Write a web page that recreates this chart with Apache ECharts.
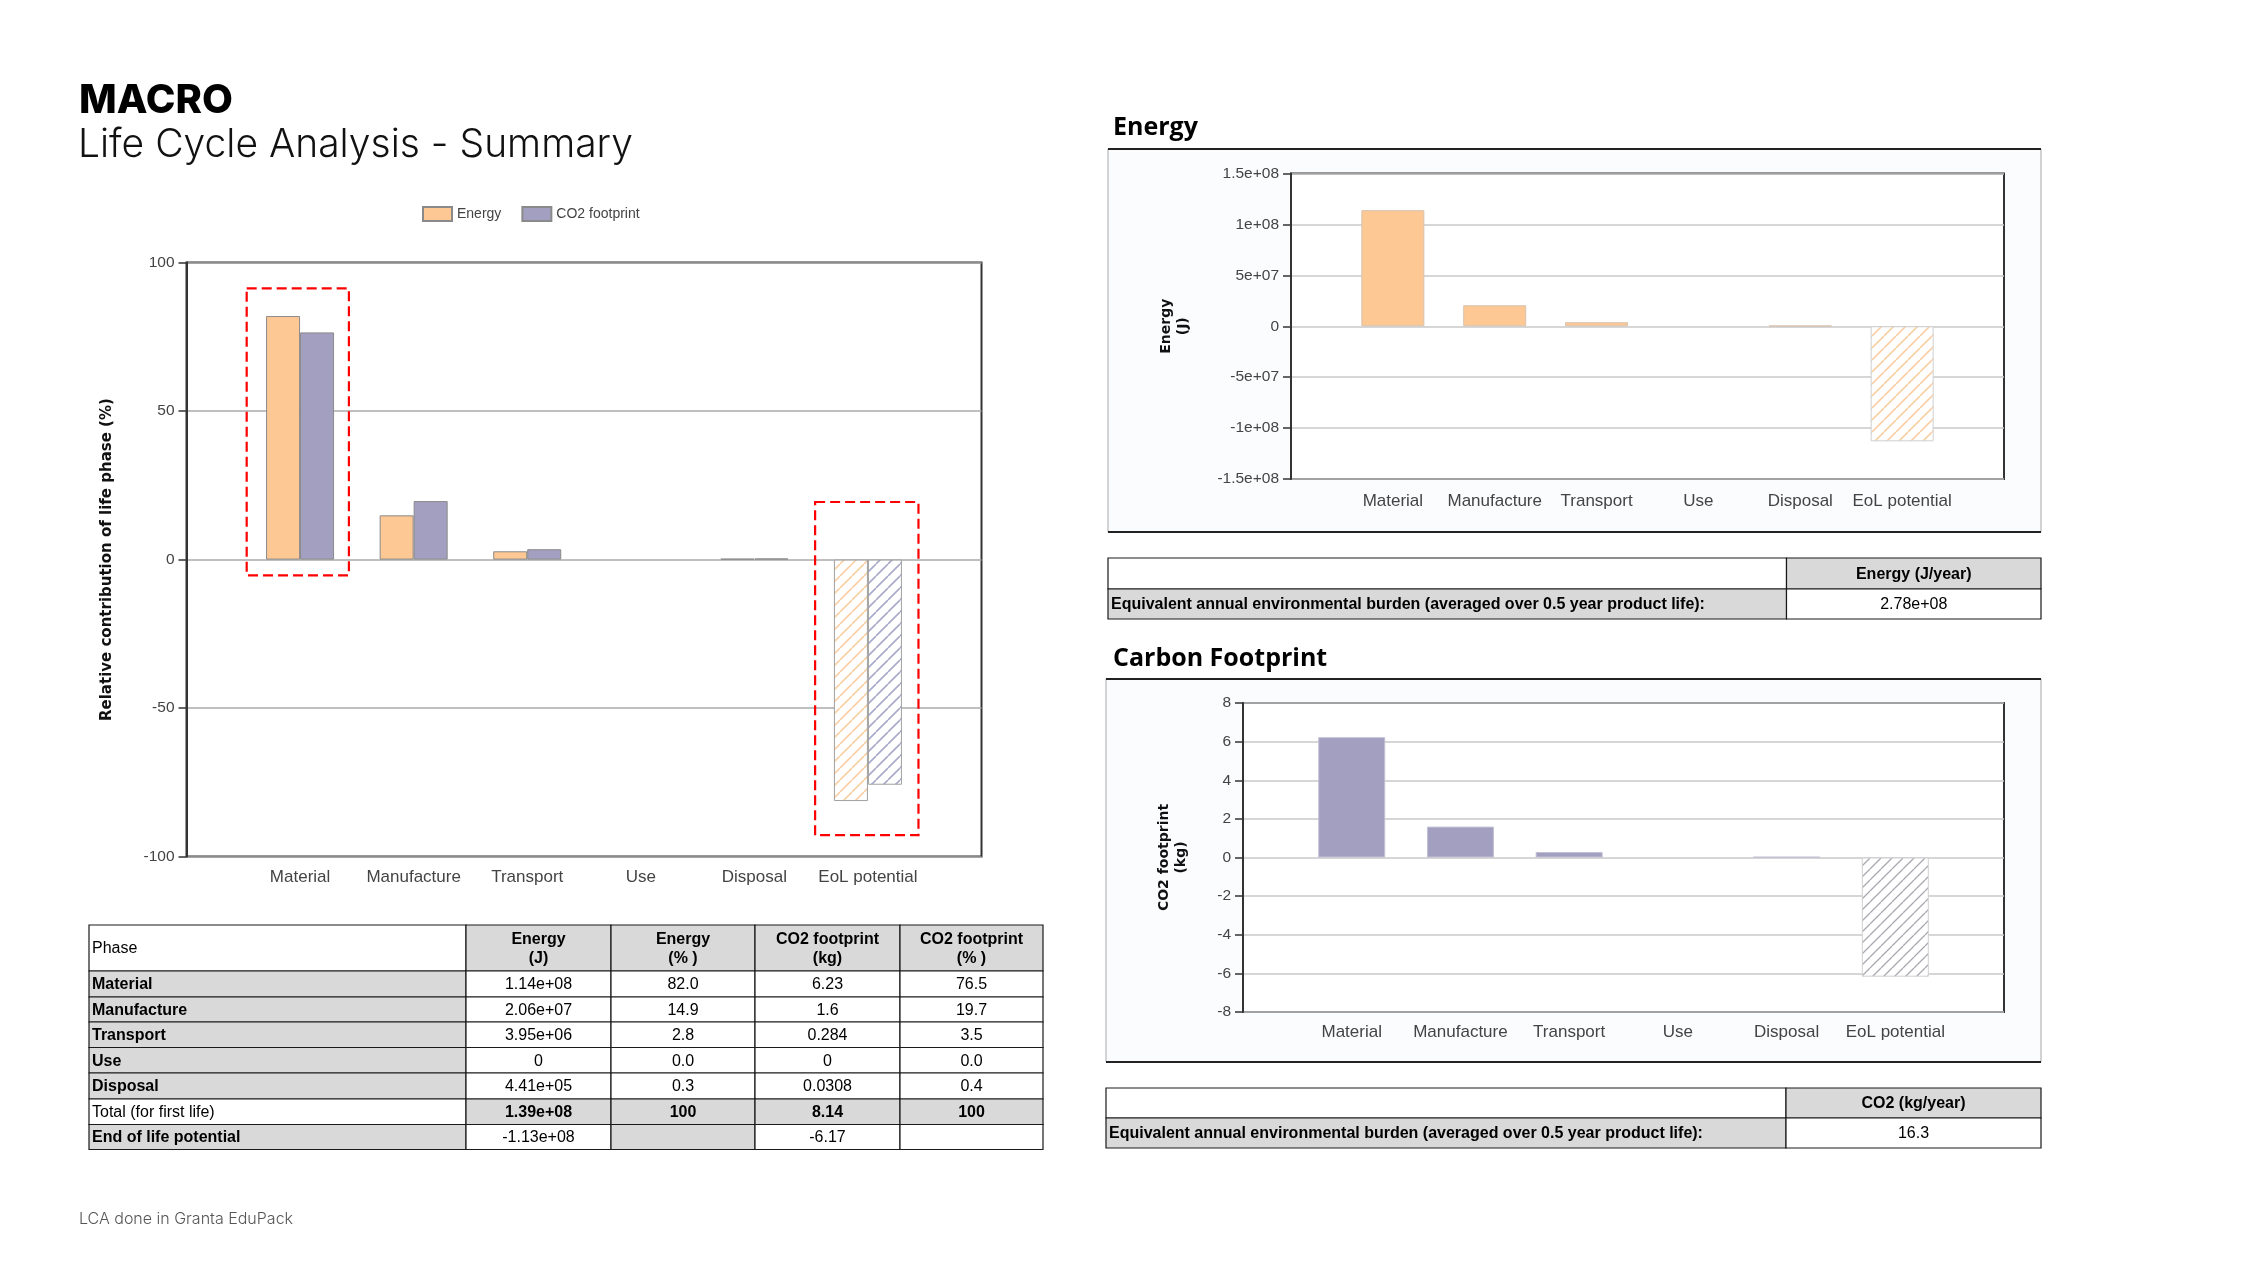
<!DOCTYPE html>
<html><head><meta charset="utf-8">
<script src="https://cdn.jsdelivr.net/npm/echarts@6/dist/echarts.min.js"></script>
<style>html,body{margin:0;padding:0;background:#fff}#c{width:2250px;height:1266px}</style>
</head><body><div id="c"></div>
<script>
// ---------- DATA ----------
const categories = ['Material', 'Manufacture', 'Transport', 'Use', 'Disposal', 'EoL potential'];
const energyPct = [82.0, 14.9, 2.8, 0.0, 0.3, -81.3];
const co2Pct = [76.5, 19.7, 3.5, 0.0, 0.4, -75.8];
const energyJ = [1.14e8, 2.06e7, 3.95e6, 0, 4.41e5, -1.13e8];
const co2Kg = [6.23, 1.6, 0.284, 0, 0.0308, -6.17];
const pctTickLabels = ['-100', '-50', '0', '50', '100'];
const energyTickLabels = ['-1.5e+08', '-1e+08', '-5e+07', '0', '5e+07', '1e+08', '1.5e+08'];
const co2TickLabels = ['-8', '-6', '-4', '-2', '0', '2', '4', '6', '8'];
const legendNames = ['Energy', 'CO2 footprint'];
// annotation boxes (category, top value, bottom value, left/right offset in category slots)
const boxCats = ['Material', 'EoL potential'];
const boxTop = [91.3, 19.4];
const boxBottom = [-5.3, -92.8];
const boxLeft = [-0.47, -0.465];
const boxRight = [0.43, 0.445];
// tables
const tableHeader = ['Phase', 'Energy\n(J)', 'Energy\n(% )', 'CO2 footprint\n(kg)', 'CO2 footprint\n(% )'];
const tablePhases = ['Material', 'Manufacture', 'Transport', 'Use', 'Disposal'];
const tableEnergyJ = ['1.14e+08', '2.06e+07', '3.95e+06', '0', '4.41e+05'];
const tableEnergyPct = ['82.0', '14.9', '2.8', '0.0', '0.3'];
const tableCo2Kg = ['6.23', '1.6', '0.284', '0', '0.0308'];
const tableCo2Pct = ['76.5', '19.7', '3.5', '0.0', '0.4'];
const totalRow = ['Total (for first life)', '1.39e+08', '100', '8.14', '100'];
const eolRow = ['End of life potential', '-1.13e+08', '', '-6.17', ''];
const burdenLabel = 'Equivalent annual environmental burden (averaged over 0.5 year product life):';
const energyBurdenHeader = 'Energy (J/year)';
const energyBurden = '2.78e+08';
const co2BurdenHeader = 'CO2 (kg/year)';
const co2Burden = '16.3';

// ---------- STYLE ----------
const PEACH = '#FEC894', PURPLE = '#A39FC0', GRAY = '#D9D9D9';
const TF = "'Liberation Sans', Arial, sans-serif";
function hatch(color, s, lw) {
  const c = document.createElement('canvas'); c.width = s; c.height = s;
  const g = c.getContext('2d'); g.fillStyle = '#fff'; g.fillRect(0, 0, s, s);
  g.strokeStyle = color; g.lineWidth = lw; g.beginPath();
  for (let k = -1; k <= 1; k++) { g.moveTo(k * s, s); g.lineTo(k * s + s, 0); }
  g.stroke(); return c;
}
const hatchPeach = hatch('#F9CFA6', 12, 1.6);
const hatchPurple = hatch('#A9A9C9', 12, 1.6);
const hatchGray = hatch('#A8A8B0', 11, 1.3);

const padCats = [''].concat(categories, ['']);
function pad(arr, hatchImg, border) {
  const d = arr.map((v, i) => {
    if (categories[i] === 'EoL potential')
      return { value: v, itemStyle: { color: { image: hatchImg, repeat: 'repeat' }, borderColor: border } };
    if (v === 0) return { value: v, itemStyle: { borderWidth: 0 } };
    return v;
  });
  return ['-'].concat(d, ['-']);
}
function tickFmt(labels, min, step) { return v => labels[Math.round((v - min) / step)] || ''; }

// ---------- GRAPHIC (titles, panels, tables) ----------
const G = [];
function txt(x, y, text, o) {
  G.push({ type: 'text', x, y, z: 50, style: Object.assign({ text, fontFamily: TF, fontSize: 16, fill: '#000', align: 'left', verticalAlign: 'middle' }, o || {}) });
}
function cellRect(x, y, w, h, fill) {
  G.push({ type: 'rect', z: 40, shape: { x, y, width: w, height: h }, style: { fill, stroke: '#1a1a1a', lineWidth: 1.2 } });
}
// titles
txt(79, 101, 'MACRO', { fontFamily: 'Inter, Lato, sans-serif', fontWeight: 800, fontSize: 40, fill: '#000' });
txt(78, 145, 'Life Cycle Analysis - Summary', { fontFamily: 'Inter, Lato, sans-serif', fontWeight: 300, fontSize: 39, fill: '#111' });
txt(79, 1219, 'LCA done in Granta EduPack', { fontFamily: 'Inter, Lato, sans-serif', fontWeight: 300, fontSize: 16, fill: '#555' });
txt(1113, 128, 'Energy', { fontFamily: "'Open Sans', 'Noto Sans', sans-serif", fontWeight: 'bold', fontSize: 25, fill: '#000' });
txt(1113, 659, 'Carbon Footprint', { fontFamily: "'Open Sans', 'Noto Sans', sans-serif", fontWeight: 'bold', fontSize: 25, fill: '#000' });
// panels
function panel(x, y, w, h) {
  G.push({ type: 'rect', z: -10, shape: { x, y, width: w, height: h }, style: { fill: '#fbfcfe', stroke: '#a8a8a8', lineWidth: 1 } });
  G.push({ type: 'line', z: -9, shape: { x1: x, y1: y, x2: x + w, y2: y }, style: { stroke: '#222', lineWidth: 2 } });
  G.push({ type: 'line', z: -9, shape: { x1: x, y1: y + h, x2: x + w, y2: y + h }, style: { stroke: '#222', lineWidth: 2 } });
}
panel(1108, 149, 933, 383);
panel(1106, 679, 935, 383);

// main table
const colX = [89, 466, 611, 755, 900, 1043];
const rowY = [925, 971, 997, 1022, 1047.5, 1073, 1099, 1124.5, 1149.5];
const rows = [tableHeader];
tablePhases.forEach((p, i) => rows.push([p, tableEnergyJ[i], tableEnergyPct[i], tableCo2Kg[i], tableCo2Pct[i]]));
rows.push(totalRow); rows.push(eolRow);
rows.forEach((r, ri) => {
  r.forEach((t, ci) => {
    let fill = '#fff';
    if (ri === 0) fill = ci === 0 ? '#fff' : GRAY;
    else if (r === totalRow) fill = ci === 0 ? '#fff' : GRAY;
    else if (r === eolRow) fill = (ci === 0 || ci === 2) ? GRAY : '#fff';
    else fill = ci === 0 ? GRAY : '#fff';
    const x = colX[ci], w = colX[ci + 1] - colX[ci], y = rowY[ri], h = rowY[ri + 1] - rowY[ri];
    cellRect(x, y, w, h, fill);
    const bold = (ri === 0 && ci > 0) || (ri > 0 && ci === 0 && r !== totalRow) || (r === totalRow && ci > 0);
    if (ci === 0) txt(x + 3, y + h / 2 + 1, t, { fontWeight: bold ? 'bold' : 'normal' });
    else txt(x + w / 2, y + h / 2 + 1, t, { align: 'center', fontWeight: bold ? 'bold' : 'normal', lineHeight: 19 });
  });
});
// burden tables
function burdenTable(x0, x1, x2, y0, y1, y2, head, val) {
  cellRect(x0, y0, x1 - x0, y1 - y0, '#fff');
  cellRect(x1, y0, x2 - x1, y1 - y0, GRAY);
  cellRect(x0, y1, x1 - x0, y2 - y1, GRAY);
  cellRect(x1, y1, x2 - x1, y2 - y1, '#fff');
  txt((x1 + x2) / 2, (y0 + y1) / 2 + 1, head, { align: 'center', fontWeight: 'bold' });
  txt(x0 + 3, (y1 + y2) / 2 + 1, burdenLabel, { fontWeight: 'bold' });
  txt((x1 + x2) / 2, (y1 + y2) / 2 + 1, val, { align: 'center' });
}
burdenTable(1108, 1786.5, 2041, 558, 589, 619, energyBurdenHeader, energyBurden);
burdenTable(1106, 1786, 2041, 1088, 1118, 1148, co2BurdenHeader, co2Burden);

// ---------- CHART ----------
const axisLabelX = { interval: 0, fontFamily: TF, fontSize: 17, color: '#444', margin: 12 };
function xAx(gi, margin) {
  return { gridIndex: gi, type: 'category', data: padCats, boundaryGap: false,
    axisLine: { show: false }, axisTick: { show: false }, splitLine: { show: false },
    axisLabel: Object.assign({}, axisLabelX, { margin }) };
}
function yAx(gi, min, max, step, labels, name, gap, splitColor, nameSize) {
  return { gridIndex: gi, type: 'value', min, max, interval: step,
    name, nameLocation: 'middle', nameRotate: 90, nameGap: gap,
    nameTextStyle: { fontFamily: "'DejaVu Sans', sans-serif", fontWeight: 'bold', fontSize: nameSize, color: '#111', lineHeight: 17 },
    axisLine: { show: true, lineStyle: { color: '#333', width: 2 } },
    axisTick: { show: true, length: 8, lineStyle: { color: '#333', width: 1.5 } },
    splitLine: { show: true, lineStyle: { color: splitColor, width: 1.5 } },
    axisLabel: { fontFamily: TF, fontSize: 15.5, color: '#444', margin: 12, formatter: tickFmt(labels, min, step) } };
}

const option = {
  animation: false,
  backgroundColor: '#fff',
  graphic: G,
  legend: { data: legendNames, left: 417, top: 201, itemWidth: 29, itemHeight: 14, itemGap: 20,
    icon: 'rect', textStyle: { fontFamily: TF, fontSize: 14, color: '#444' } },
  grid: [
    { left: 186.5, top: 262.6, width: 795, height: 594, show: true, borderColor: '#333', borderWidth: 2, backgroundColor: '#fff' },
    { left: 1291, top: 173.5, width: 713, height: 305.5, show: true, borderColor: '#333', borderWidth: 2, backgroundColor: '#fff' },
    { left: 1243, top: 703, width: 761, height: 309, show: true, borderColor: '#333', borderWidth: 2, backgroundColor: '#fff' }
  ],
  xAxis: [xAx(0, 12), xAx(1, 14), xAx(2, 12)],
  yAxis: [
    yAx(0, -100, 100, 50, pctTickLabels, 'Relative contribution of life phase (%)', 71, '#aaa', 15),
    yAx(1, -1.5e8, 1.5e8, 5e7, energyTickLabels, 'Energy\n(J)', 99, '#c8c8c8', 14),
    yAx(2, -8, 8, 2, co2TickLabels, 'CO2 footprint\n(kg)', 53, '#c8c8c8', 14)
  ],
  series: [
    { name: legendNames[0], type: 'bar', xAxisIndex: 0, yAxisIndex: 0, barWidth: 34, barGap: '0%',
      itemStyle: { color: PEACH, borderColor: '#8a8a8a', borderWidth: 1 }, data: pad(energyPct, hatchPeach, '#a0a0a0') },
    { name: legendNames[1], type: 'bar', xAxisIndex: 0, yAxisIndex: 0, barWidth: 34, barGap: '0%',
      itemStyle: { color: PURPLE, borderColor: '#8a8a8a', borderWidth: 1 }, data: pad(co2Pct, hatchPurple, '#a0a0a0') },
    { name: 'Energy (J)', type: 'bar', xAxisIndex: 1, yAxisIndex: 1, barWidth: 63,
      itemStyle: { color: PEACH, borderColor: '#d6c2ae', borderWidth: 1 }, data: pad(energyJ, hatchPeach, '#cfcfcf') },
    { name: 'CO2 footprint (kg)', type: 'bar', xAxisIndex: 2, yAxisIndex: 2, barWidth: 67,
      itemStyle: { color: PURPLE, borderColor: '#c2c0d2', borderWidth: 1 }, data: pad(co2Kg, hatchGray, '#cfcfcf') },
    { name: 'annotations', type: 'custom', xAxisIndex: 0, yAxisIndex: 0, z: 10, clip: false, silent: true,
      data: boxCats.map((c, i) => [padCats.indexOf(c), boxTop[i], boxBottom[i], boxLeft[i], boxRight[i]]),
      encode: { x: 0, y: [1, 2] },
      renderItem: (params, api) => {
        const c = api.value(0);
        const pt = api.coord([c, api.value(1)]);
        const pb = api.coord([c, api.value(2)]);
        const slot = api.size([1, 0])[0];
        const x0 = pt[0] + api.value(3) * slot, x1 = pt[0] + api.value(4) * slot;
        return { type: 'rect', shape: { x: x0, y: pt[1], width: x1 - x0, height: pb[1] - pt[1] },
          style: { fill: 'none', stroke: '#ff0000', lineWidth: 2.2, lineDash: [10, 5] } };
      } }
  ]
};
const chart = echarts.init(document.getElementById('c'), null, { renderer: 'canvas' });
chart.setOption(option);
</script></body></html>
